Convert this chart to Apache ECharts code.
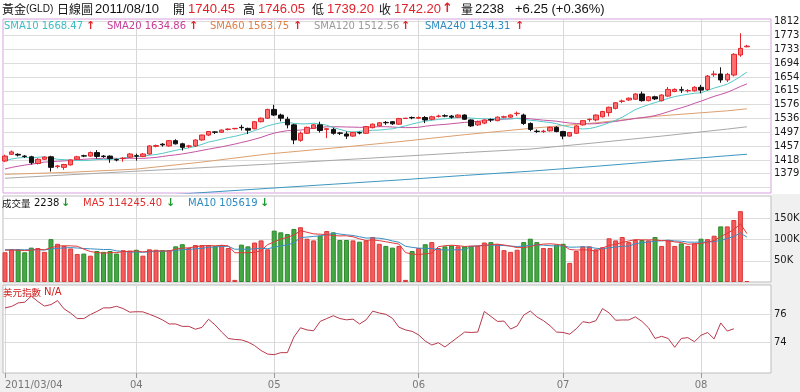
<!DOCTYPE html>
<html><head><meta charset="utf-8">
<script src="https://cdn.jsdelivr.net/npm/echarts@6.0.0/dist/echarts.min.js"></script>
<style>html,body{margin:0;padding:0;background:#fff;}#chart{width:800px;height:392px;}</style>
</head><body><div id="chart"></div>
<script>
// ---------- categories ----------
const dates = [
'2011/03/04','2011/03/07','2011/03/08','2011/03/09','2011/03/10','2011/03/11','2011/03/14','2011/03/15','2011/03/16','2011/03/17',
'2011/03/18','2011/03/21','2011/03/22','2011/03/23','2011/03/24','2011/03/25','2011/03/28','2011/03/29','2011/03/30','2011/03/31',
'2011/04/01','2011/04/04','2011/04/05','2011/04/06','2011/04/07','2011/04/08','2011/04/11','2011/04/12','2011/04/13','2011/04/14',
'2011/04/15','2011/04/18','2011/04/19','2011/04/20','2011/04/21','2011/04/22','2011/04/25','2011/04/26','2011/04/27','2011/04/28',
'2011/04/29','2011/05/02','2011/05/03','2011/05/04','2011/05/05','2011/05/06','2011/05/09','2011/05/10','2011/05/11','2011/05/12',
'2011/05/13','2011/05/16','2011/05/17','2011/05/18','2011/05/19','2011/05/20','2011/05/23','2011/05/24','2011/05/25','2011/05/26',
'2011/05/27','2011/05/30','2011/05/31','2011/06/01','2011/06/02','2011/06/03','2011/06/06','2011/06/07','2011/06/08','2011/06/09',
'2011/06/10','2011/06/13','2011/06/14','2011/06/15','2011/06/16','2011/06/17','2011/06/20','2011/06/21','2011/06/22','2011/06/23',
'2011/06/24','2011/06/27','2011/06/28','2011/06/29','2011/06/30','2011/07/01','2011/07/04','2011/07/05','2011/07/06','2011/07/07',
'2011/07/08','2011/07/11','2011/07/12','2011/07/13','2011/07/14','2011/07/15','2011/07/18','2011/07/19','2011/07/20','2011/07/21',
'2011/07/22','2011/07/25','2011/07/26','2011/07/27','2011/07/28','2011/07/29','2011/08/01','2011/08/02','2011/08/03','2011/08/04',
'2011/08/05','2011/08/08','2011/08/09','2011/08/10'];

// ---------- price (OHLC) ----------
const opens = [
1415,1434,1434,1429,1427,1408,1420,1427,1399,1397,
1404,1420,1430,1429,1439,1429,1429,1419,1422,1426,
1430,1428,1435,1457,1463,1458,1473,1464,1457,1458,
1475,1489,1498,1497,1505,1507,1511,1508,1507,1527,
1537,1562,1546,1534,1518,1474,1494,1508,1518,1505,
1505,1495,1492,1486,1496,1494,1510,1515,1525,1527,
1520,1536,1539,1537,1539,1534,1542,1544,1543,1540,
1546,1532,1518,1523,1533,1530,1540,1540,1550,1546,
1522,1500,1499,1501,1511,1499,1486,1494,1518,1533,
1532,1541,1553,1565,1585,1589,1591,1606,1587,1598,
1587,1600,1613,1618,1615,1615,1625,1619,1661,1663,
1646,1660,1717,1740.45];
const highs = [
1433,1445,1437,1432,1430,1423,1428,1430,1404,1407,
1420,1430,1433,1442,1446,1432,1431,1422,1426,1438,
1436,1438,1460,1462,1466,1475,1477,1467,1461,1477,
1490,1500,1500,1505,1508,1509,1518,1510,1529,1539,
1564,1575,1550,1541,1521,1499,1513,1520,1527,1508,
1510,1498,1499,1498,1499,1515,1522,1526,1529,1529,
1538,1538,1542,1542,1543,1544,1547,1548,1546,1548,
1548,1534,1530,1534,1536,1542,1544,1548,1556,1550,
1525,1505,1504,1513,1514,1501,1498,1517,1532,1536,
1548,1558,1570,1583,1590,1596,1608,1613,1600,1601,
1605,1626,1622,1627,1620,1628,1632,1660,1672,1682,
1666,1722,1779,1746.05];
const lows = [
1412,1432,1428,1424,1405,1405,1418,1385,1394,1390,
1402,1418,1426,1427,1422,1424,1410,1414,1413,1424,
1416,1426,1433,1454,1456,1456,1462,1445,1452,1455,
1473,1486,1492,1495,1502,1505,1502,1492,1505,1525,
1535,1543,1528,1508,1463,1470,1492,1506,1496,1480,
1490,1489,1478,1484,1491,1492,1508,1513,1518,1518,
1518,1535,1534,1535,1523,1531,1539,1540,1536,1537,
1532,1512,1515,1520,1526,1528,1537,1538,1543,1518,
1500,1495,1495,1499,1497,1477,1484,1492,1516,1527,
1528,1539,1542,1562,1580,1586,1589,1584,1585,1589,
1585,1598,1611,1609,1610,1613,1608,1615,1655,1638,
1640,1656,1712,1739.20];
const closes = [
1429,1441,1432,1428,1410,1420,1426,1397,1401,1405,
1418,1427,1429,1439,1428,1428,1422,1418,1423,1435,
1429,1435,1458,1459,1461,1473,1464,1454,1458,1475,
1489,1499,1497,1503,1506,1508,1510,1503,1527,1537,
1562,1546,1537,1518,1475,1494,1511,1518,1502,1507,
1494,1494,1486,1496,1495,1513,1520,1524,1524,1521,
1536,1537,1538,1539,1532,1541,1543,1543,1540,1546,
1534,1515,1527,1532,1532,1540,1541,1546,1551,1522,
1505,1499,1500,1511,1499,1486,1496,1515,1530,1534,
1546,1556,1568,1581,1586,1594,1606,1587,1598,1592,
1603,1619,1619,1617,1616,1625,1617,1657,1663,1646,
1662,1719,1735.95,1742.20];

// ---------- price moving averages ----------
const sma10 = [
1415.8,1420.7,1423.7,1425.2,1424.6,1425.7,1427.2,1423.6,1420.0,1418.9,
1417.8,1416.4,1416.1,1417.2,1419.0,1419.8,1419.4,1421.5,1423.7,1426.7,
1427.8,1428.6,1431.5,1433.5,1436.8,1441.3,1445.5,1449.1,1452.6,1456.6,
1462.6,1469.0,1472.9,1477.3,1481.8,1485.3,1489.9,1494.8,1501.7,1507.9,
1515.2,1519.9,1523.9,1525.4,1522.3,1520.9,1521.0,1522.5,1520.0,1517.0,
1510.2,1505.0,1499.9,1497.7,1499.7,1501.6,1502.5,1503.1,1505.3,1506.7,
1510.9,1515.2,1520.4,1524.7,1528.4,1531.2,1533.5,1535.4,1537.0,1539.5,
1539.3,1537.1,1536.0,1535.3,1535.3,1535.2,1535.0,1535.3,1536.4,1534.0,
1531.1,1529.5,1526.8,1524.7,1521.4,1516.0,1511.5,1508.4,1506.3,1507.5,
1511.6,1517.3,1524.1,1531.1,1539.8,1550.6,1561.6,1568.8,1575.6,1581.4,
1587.1,1593.4,1598.5,1602.1,1605.1,1608.2,1609.3,1616.3,1622.8,1628.2,
1634.1,1644.1,1655.8,1668.47];
const sma20 = [
1392.4,1396.8,1400.2,1403.4,1405.7,1408.7,1411.9,1413.0,1414.3,1415.3,
1416.8,1418.6,1419.9,1421.2,1421.8,1422.8,1423.3,1422.6,1421.9,1422.8,
1422.8,1422.5,1423.8,1425.4,1427.9,1430.6,1432.5,1435.3,1438.2,1441.7,
1445.2,1448.8,1452.2,1455.4,1459.3,1463.3,1467.7,1472.0,1477.2,1482.3,
1488.9,1494.5,1498.4,1501.4,1502.1,1503.1,1505.5,1508.7,1510.9,1512.5,
1512.7,1512.5,1511.9,1511.6,1511.0,1511.3,1511.8,1512.8,1512.7,1511.9,
1510.6,1510.1,1510.2,1511.2,1514.1,1516.4,1518.0,1519.3,1521.2,1523.1,
1525.1,1526.2,1528.2,1530.0,1531.9,1533.2,1534.3,1535.4,1536.7,1536.8,
1535.2,1533.3,1531.4,1530.0,1528.4,1525.6,1523.3,1521.9,1521.4,1520.8,
1521.4,1523.4,1525.5,1527.9,1530.6,1533.3,1536.6,1538.6,1541.0,1544.5,
1549.4,1555.4,1561.3,1566.6,1572.5,1579.4,1585.5,1592.6,1599.2,1604.8,
1610.6,1618.8,1627.2,1634.86];
// slow averages, read at these trading-day indexes
const slowMaDays = [0,10,20,30,40,50,60,70,80,90,100,110,113];
const sma60  = [1377,1383,1392,1412,1435,1452,1470,1490,1508,1524,1544,1558,1563.75];
const sma120 = [1366,1376,1386,1396,1406,1417,1428,1439,1449,1467,1486,1506,1512.56];
const sma240 = [1288,1300,1312,1325,1337,1349,1361,1374,1386,1400,1415,1430,1434.31];

// ---------- volume ----------
const volumes = [
70000,77000,77000,70000,81000,80000,71000,101000,90000,85000,
79000,66000,67000,62000,73000,71000,73000,67000,75000,74000,
76000,62000,77000,76000,75000,75000,84000,89000,80000,87000,
87000,87000,85000,87000,80000,5000,88000,84000,93000,98000,
77000,121000,117000,113000,125000,129000,102000,98000,109000,120000,
117000,99000,99000,98000,95000,98000,106000,90000,85000,81000,
85000,5000,73000,80000,89000,94000,80000,84000,86000,84000,
84000,85000,85000,93000,94000,89000,75000,71000,76000,94000,
102000,94000,80000,80000,88000,90000,45000,73000,84000,84000,
77000,82000,103000,98000,106000,94000,99000,99000,98000,106000,
85000,98000,85000,91000,85000,91000,102000,101000,109000,131000,
131000,146000,167000,2238];
const volMA5 = [
75000,75000,75000,74000,75000,77000,75800,80600,84600,85400,
85200,84200,77400,71800,69400,67800,69200,69200,71800,72000,
73000,70800,72800,73000,73200,73000,77400,79800,80600,83000,
85400,86000,85200,86600,85200,68800,69000,68800,70000,73600,
88000,94600,101200,105200,110600,121000,117200,113400,112600,111600,
109200,108600,108800,106600,101600,97800,99200,97400,94800,92000,
89400,69200,65800,64800,66400,68200,83200,85400,86600,85600,
83600,84600,84800,86200,88200,89200,87200,84400,81000,81000,
83600,87400,89200,90000,88800,86400,76600,75200,76000,75200,
72600,80000,86000,88800,93200,96600,100000,99200,99200,99200,
97400,97200,94400,93000,88800,90000,90800,94000,97600,106800,
114800,123600,136800,114245.40];
const volMA10 = [
76000,76000,76000,76000,76000,76000,75400,77800,79300,80200,
81100,80000,79000,78200,77400,76500,76700,73300,71800,70700,
70400,70000,71000,72400,72600,73000,74100,76300,76800,78100,
79200,81700,82500,83600,84100,77100,77500,77000,78300,79400,
78400,81800,85000,87600,92100,104500,105900,107300,108900,111100,
115100,112900,111100,109600,106600,103500,103900,103100,100700,96800,
93600,84200,81600,79800,79200,78800,76200,75600,75700,76000,
75900,83900,85100,86400,86900,86400,85900,84600,83600,84600,
86400,87300,86800,85500,84900,85000,82000,82200,83000,82000,
79500,78300,80600,82400,84200,84600,90000,92600,94000,96200,
97000,98600,96800,96100,94000,93700,94000,94200,95300,97800,
102400,107200,115400,105619];

// ---------- US dollar index ----------
const usdIndex = [
76.45,76.55,76.80,76.85,77.28,76.90,76.58,76.68,76.96,76.38,
76.08,75.70,75.70,75.98,76.20,76.45,76.45,76.56,76.40,76.15,
76.18,76.17,76.00,75.82,75.60,75.32,75.32,75.15,75.15,74.95,
75.08,75.65,75.25,74.75,74.30,74.23,74.20,74.05,73.80,73.45,
73.20,73.16,73.30,73.30,74.40,75.05,74.90,74.84,75.50,75.70,
75.90,75.70,75.61,75.66,75.32,75.61,76.22,76.09,76.00,75.72,
75.09,74.90,74.80,74.55,74.12,73.84,74.00,73.70,74.05,74.40,
74.75,74.72,74.75,76.20,75.85,75.50,75.52,74.96,75.18,75.94,
76.23,75.82,75.55,75.20,74.75,74.72,74.60,74.98,75.48,75.40,
75.55,76.40,76.10,75.58,75.60,75.60,75.82,75.50,75.05,74.30,
74.45,74.30,73.68,74.30,74.36,74.07,74.52,74.72,74.27,75.39,
74.82,74.98];

// ---------- tick labels ----------
const priceTicks = [1379,1418,1457,1497,1536,1576,1615,1654,1694,1733,1773,1812];
const priceGridExtra = [1340];
const volTicks = [50000,100000,150000];
const usdTicks = [74,76];

// ---------- header texts ----------
const headerTitle = ['黃金', '(GLD)', '日線圖', '2011/08/10'];
const headerQuote = [['開','1740.45'],['高','1746.05'],['低','1739.20'],['收','1742.20']];
const headerVol = ['量', '2238', '+6.25 (+0.36%)'];
const smaLegend = [['SMA10','1668.47'],['SMA20','1634.86'],['SMA60','1563.75'],['SMA120','1512.56'],['SMA240','1434.31']];
const volLegend = [['成交量','2238'],['MA5','114245.40'],['MA10','105619']];
const usdLegend = ['美元指數', 'N/A'];

// ---------- layout & style ----------
const XMIN = -0.305, XMAX = 116.66;
const RED = '#e0222a', GREEN = '#1e9a2e';
const smaColors = ['#3cbcc4','#c63c98','#dc8048','#9a9a9a','#2e8cc0'];
const smaLineColors = ['#55c8c8','#c454a4','#dca070','#a8a8a8','#3c96c0'];
const F_HEAD = '13px "Liberation Sans", Arial, sans-serif';
const F_HEAD_CJK = '12px "Noto Sans CJK TC", sans-serif';
const F_SM = '10px "DejaVu Sans", sans-serif';
const F_SM_CJK = '9.5px "Noto Sans CJK TC", sans-serif';
const F_ARROW = 'bold 11px "DejaVu Sans", sans-serif';

const monthStarts = [];
dates.forEach((d, i) => { if (i > 0 && d.slice(5,7) !== dates[i-1].slice(5,7)) monthStarts.push(i); });
const labelDays = [0].concat(monthStarts);
function xLabel(v) { const i = Math.round(v); return i === 0 ? dates[0] : dates[i].slice(5,7); }

function T(text, x, y, fill, font) {
  return { type: 'text', x: x, y: y, silent: true, z: 50,
    style: { text: text, fill: fill, font: font, textVerticalAlign: 'middle', verticalAlign: 'middle' } };
}

const graphics = [
  { type: 'rect', silent: true, z: -10, shape: { x: 771, y: 194, width: 29, height: 198 }, style: { fill: '#f0f0f0' } },
  { type: 'rect', silent: true, z: -10, shape: { x: 0, y: 282, width: 800, height: 110 }, style: { fill: '#f0f0f0' } },
  T(headerTitle[0], 2, 9, '#111', F_HEAD_CJK),
  T(headerTitle[1], 26, 9, '#111', '10px "Liberation Sans", Arial, sans-serif'),
  T(headerTitle[2], 57, 9, '#111', F_HEAD_CJK),
  T(headerTitle[3], 95, 9, '#111', F_HEAD),
  T(headerQuote[0][0], 173, 9, '#111', F_HEAD_CJK), T(headerQuote[0][1], 188, 9, RED, F_HEAD),
  T(headerQuote[1][0], 243, 9, '#111', F_HEAD_CJK), T(headerQuote[1][1], 258, 9, RED, F_HEAD),
  T(headerQuote[2][0], 312, 9, '#111', F_HEAD_CJK), T(headerQuote[2][1], 327, 9, RED, F_HEAD),
  T(headerQuote[3][0], 379, 9, '#111', F_HEAD_CJK), T(headerQuote[3][1], 394, 9, RED, F_HEAD),
  T('↑', 442, 9, RED, 'bold 13px "DejaVu Sans", sans-serif'),
  T(headerVol[0], 461, 9, '#111', F_HEAD_CJK), T(headerVol[1], 475, 9, '#111', F_HEAD),
  T(headerVol[2], 515, 9, '#111', F_HEAD)
];
const smaX = [[4,86],[107,189],[210,293],[314,401],[425,515]];
smaLegend.forEach((s, k) => {
  graphics.push(T(s[0] + ' ' + s[1], smaX[k][0], 26, smaColors[k], F_SM));
  graphics.push(T('↑', smaX[k][1], 26, RED, F_ARROW));
});
graphics.push(T(volLegend[0][0], 2, 203, '#111', F_SM_CJK));
graphics.push(T(volLegend[0][1], 34, 203, '#111', F_SM));
graphics.push(T('↓', 61, 203, GREEN, F_ARROW));
graphics.push(T(volLegend[1][0] + ' ' + volLegend[1][1], 83, 203, '#e03030', F_SM));
graphics.push(T('↓', 166, 203, GREEN, F_ARROW));
graphics.push(T(volLegend[2][0] + ' ' + volLegend[2][1], 188, 203, '#2e8cc0', F_SM));
graphics.push(T('↓', 260, 203, GREEN, F_ARROW));
graphics.push(T(usdLegend[0], 3, 292, '#d02020', F_SM_CJK));
graphics.push(T(usdLegend[1], 44, 292, '#d02020', F_SM));

const gridLine = { lineStyle: { color: '#dcdcdc', width: 1 } };
function xAxisFor(idx, bottom) {
  return {
    type: 'value', gridIndex: idx, min: XMIN, max: XMAX,
    axisLine: { show: false },
    axisTick: bottom ? { show: true, length: 5, lineStyle: { color: '#9a9a9a' }, customValues: labelDays }
                     : { show: false, customValues: monthStarts },
    axisLabel: bottom ? { show: true, customValues: labelDays, formatter: xLabel, color: '#777',
                          fontFamily: 'DejaVu Sans', fontSize: 10, margin: 7, alignMinLabel: 'left' }
                      : { show: false },
    splitLine: { show: true, lineStyle: { color: '#d8d8d8', width: 1 } }
  };
}
const yLabel = { color: '#1a1a1a', fontFamily: 'DejaVu Sans', fontSize: 10, margin: 3 };

const upStyle = { color: '#f65a5a', borderColor: '#d83a3a', borderWidth: 1 };
const downStyle = { color: '#45a845', borderColor: '#2c8a2c', borderWidth: 1 };

const option = {
  animation: false,
  backgroundColor: '#ffffff',
  graphic: { elements: graphics },
  grid: [
    { left: 3, top: 19, width: 768, height: 174, show: true, backgroundColor: '#fff', borderColor: '#d8a0e0', borderWidth: 1, outerBoundsMode: 'none', containLabel: false },
    { left: 3, top: 196, width: 768, height: 86, show: true, backgroundColor: '#fff', borderColor: '#bdbdbd', borderWidth: 1, outerBoundsMode: 'none', containLabel: false },
    { left: 3, top: 285, width: 768, height: 88, show: true, backgroundColor: '#fff', borderColor: '#bdbdbd', borderWidth: 1, outerBoundsMode: 'none', containLabel: false }
  ],
  xAxis: [xAxisFor(0, false), xAxisFor(1, false), xAxisFor(2, true)],
  yAxis: [
    { type: 'value', gridIndex: 0, position: 'right', min: 1323.9, max: 1819.6,
      axisLine: { show: false }, axisTick: { show: false, customValues: priceGridExtra.concat(priceTicks) },
      axisLabel: Object.assign({ customValues: priceTicks, formatter: v => String(Math.round(v)) }, yLabel),
      splitLine: gridLine },
    { type: 'value', gridIndex: 1, position: 'right', min: 0, max: 202600,
      axisLine: { show: false }, axisTick: { show: false, customValues: volTicks },
      axisLabel: Object.assign({ customValues: volTicks, formatter: v => Math.round(v / 1000) + 'K' }, yLabel),
      splitLine: gridLine },
    { type: 'value', gridIndex: 2, position: 'right', min: 71.87, max: 78.06,
      axisLine: { show: false }, axisTick: { show: false, customValues: usdTicks },
      axisLabel: Object.assign({ customValues: usdTicks, formatter: v => String(Math.round(v)) }, yLabel),
      splitLine: gridLine }
  ],
  series: [
    { type: 'line', xAxisIndex: 0, yAxisIndex: 0, z: 2, showSymbol: false, symbol: 'none', silent: true,
      lineStyle: { color: smaLineColors[4], width: 1 }, data: slowMaDays.map((d, k) => [d, sma240[k]]) },
    { type: 'line', xAxisIndex: 0, yAxisIndex: 0, z: 2, showSymbol: false, symbol: 'none', silent: true,
      lineStyle: { color: smaLineColors[3], width: 1 }, data: slowMaDays.map((d, k) => [d, sma120[k]]) },
    { type: 'line', xAxisIndex: 0, yAxisIndex: 0, z: 2, showSymbol: false, symbol: 'none', silent: true,
      lineStyle: { color: smaLineColors[2], width: 1 }, data: slowMaDays.map((d, k) => [d, sma60[k]]) },
    { type: 'line', xAxisIndex: 0, yAxisIndex: 0, z: 2, showSymbol: false, symbol: 'none', silent: true,
      lineStyle: { color: smaLineColors[1], width: 1 }, data: sma20.map((v, i) => [i, v]) },
    { type: 'line', xAxisIndex: 0, yAxisIndex: 0, z: 2, showSymbol: false, symbol: 'none', silent: true,
      lineStyle: { color: smaLineColors[0], width: 1 }, data: sma10.map((v, i) => [i, v]) },
    { type: 'candlestick', xAxisIndex: 0, yAxisIndex: 0, z: 3, barWidth: 5, silent: true,
      encode: { x: 0, y: [1, 2, 3, 4] },
      itemStyle: { color: '#ff6e6e', color0: '#111111', borderColor: '#e3262c', borderColor0: '#111111', borderWidth: 1 },
      data: dates.map((d, i) => [i, opens[i], closes[i], lows[i], highs[i]]) },
    { type: 'bar', xAxisIndex: 1, yAxisIndex: 1, z: 2, barWidth: 5, silent: true,
      data: volumes.map((v, i) => ({ value: [i, v], itemStyle: closes[i] >= opens[i] ? upStyle : downStyle })) },
    { type: 'line', xAxisIndex: 1, yAxisIndex: 1, z: 3, showSymbol: false, symbol: 'none', silent: true,
      lineStyle: { color: '#3a8ec4', width: 1 }, data: volMA10.map((v, i) => [i, v]) },
    { type: 'line', xAxisIndex: 1, yAxisIndex: 1, z: 3, showSymbol: false, symbol: 'none', silent: true,
      lineStyle: { color: '#e03a3a', width: 1 }, data: volMA5.map((v, i) => [i, v]) },
    { type: 'line', xAxisIndex: 2, yAxisIndex: 2, z: 3, showSymbol: false, symbol: 'none', silent: true,
      lineStyle: { color: '#b8384c', width: 1 }, data: usdIndex.map((v, i) => [i, v]) }
  ]
};
const chart = echarts.init(document.getElementById('chart'), null, { renderer: 'canvas' });
chart.setOption(option);
</script></body></html>
